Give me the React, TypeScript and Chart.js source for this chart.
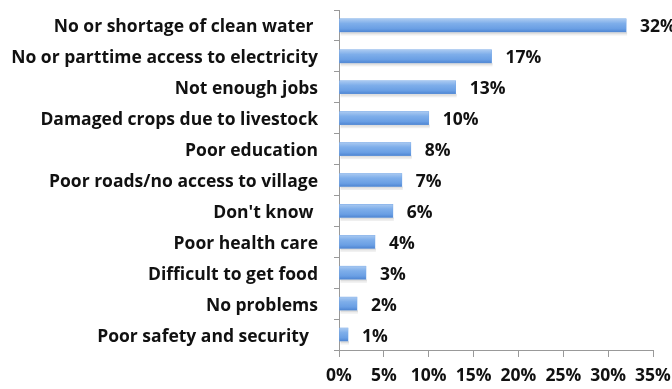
import React, { useEffect, useRef } from "react";
import { Chart, registerables } from "chart.js";

Chart.register(...registerables);

const categories = [
  "No or shortage of clean water ",
  "No or parttime access to electricity",
  "Not enough jobs",
  "Damaged crops due to livestock",
  "Poor education",
  "Poor roads/no access to village",
  "Don't know ",
  "Poor health care",
  "Difficult to get food",
  "No problems",
  "Poor safety and security  ",
];
const values = [32, 17, 13, 10, 8, 7, 6, 4, 3, 2, 1];
const xTicks = [0, 5, 10, 15, 20, 25, 30, 35];

const FONT = "'Open Sans', Lato, sans-serif";
const FS = 17.5;

const barStylePlugin = {
  id: "barStyle",
  afterDatasetsDraw(chart: any) {
    const ctx = chart.ctx;
    const meta = chart.getDatasetMeta(0);
    meta.data.forEach((bar: any, i: number) => {
      const h = bar.height;
      const top = bar.y - h / 2;
      const left = bar.base;
      const w = bar.x - bar.base;
      ctx.save();
      ctx.fillStyle = "rgba(160,160,160,0.35)";
      ctx.fillRect(left + 1, top + h, w, 2);
      ctx.fillStyle = "rgba(200,200,200,0.3)";
      ctx.fillRect(left + 1, top + h + 2, w, 1.5);
      const g = ctx.createLinearGradient(0, top, 0, top + h);
      g.addColorStop(0, "#a9c9f1");
      g.addColorStop(0.35, "#7eaeea");
      g.addColorStop(0.75, "#6a9fe4");
      g.addColorStop(1, "#4f86d3");
      ctx.fillStyle = g;
      ctx.fillRect(left, top, w, h);
      ctx.fillStyle = "#111";
      ctx.font = `bold ${FS}px ${FONT}`;
      ctx.textAlign = "left";
      ctx.textBaseline = "middle";
      ctx.fillText(values[i] + "%", bar.x + 14, bar.y + 2);
      ctx.restore();
    });
  },
};

export default function App() {
  const ref = useRef<HTMLCanvasElement | null>(null);
  useEffect(() => {
    if (!ref.current) return;
    const chart = new Chart(ref.current, {
      type: "bar",
      data: {
        labels: categories,
        datasets: [
          {
            data: values,
            backgroundColor: "#6fa3e6",
            barThickness: 13,
          },
        ],
      },
      options: {
        indexAxis: "y",
        responsive: false,
        animation: false,
        layout: { padding: { top: 10, right: 0, left: 0, bottom: 0 } },
        plugins: {
          legend: { display: false },
          tooltip: { enabled: false },
        },
        scales: {
          y: {
            afterFit(scale: any) {
              scale.width = 339;
              scale.paddingTop = 0;
              scale.paddingBottom = 0;
            },
            grid: {
              offset: true,
              drawOnChartArea: false,
              tickLength: 5,
              color: "#999",
            },
            border: { display: true, color: "#999" },
            ticks: {
              color: "#111",
              padding: 16,
              labelOffset: 2,
              font: { family: FONT, size: FS, weight: "bold" },
            },
          },
          x: {
            min: 0,
            max: 35,
            afterBuildTicks(scale: any) {
              scale.ticks = xTicks.map((v) => ({ value: v }));
            },
            afterFit(scale: any) {
              scale.height = 39;
              scale.paddingRight = 19;
              scale.paddingLeft = 0;
            },
            grid: {
              drawOnChartArea: false,
              tickLength: 7,
              color: "#999",
            },
            border: { display: true, color: "#999" },
            ticks: {
              color: "#111",
              padding: 9,
              maxRotation: 0,
              autoSkip: false,
              font: { family: FONT, size: FS, weight: "bold" },
              callback: (v: any) => v + "%",
            },
          },
        },
      },
      plugins: [barStylePlugin],
    });
    return () => chart.destroy();
  }, []);
  return (
    <div style={{ position: "absolute", left: 0, top: 0, width: 672, height: 389, background: "#fff" }}>
      <canvas ref={ref} width={672} height={389} style={{ display: "block" }} />
    </div>
  );
}
